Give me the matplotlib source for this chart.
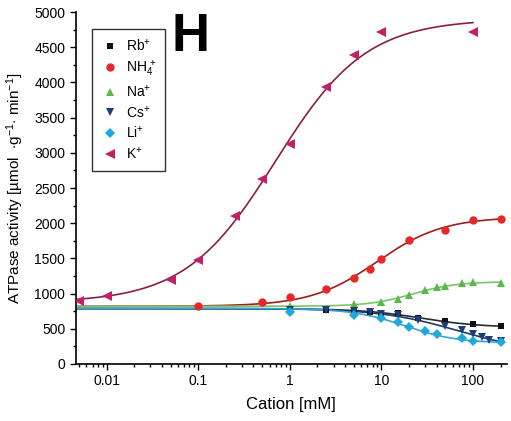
import numpy as np
import matplotlib.pyplot as plt
from matplotlib.ticker import FixedLocator, MultipleLocator, LogLocator, NullFormatter

plt.rcParams['font.family'] = ['Liberation Sans', 'DejaVu Sans']
plt.rcParams['mathtext.fontset'] = 'custom'
plt.rcParams['mathtext.rm'] = 'Liberation Sans'
plt.rcParams['mathtext.it'] = 'Liberation Sans:italic'
plt.rcParams['mathtext.bf'] = 'Liberation Sans:bold'

# measured ATPase activity vs cation concentration (mM)
k_conc = [0.005, 0.01, 0.05, 0.1, 0.25, 0.5, 1, 2.5, 5, 10, 100]
k_act = [890, 970, 1190, 1480, 2100, 2630, 3130, 3940, 4385, 4710, 4720]

nh4_conc = [0.1, 0.5, 1, 2.5, 5, 7.5, 10, 20, 50, 100, 200]
nh4_act = [830, 880, 955, 1070, 1215, 1350, 1490, 1755, 1910, 2050, 2060]

na_conc = [1, 5, 10, 15, 20, 30, 40, 50, 75, 100, 200]
na_act = [825, 855, 875, 920, 975, 1045, 1100, 1110, 1150, 1165, 1150]

rb_conc = [2.5, 5, 7.5, 10, 15, 25, 50, 100, 200]
rb_act = [760, 765, 745, 730, 725, 660, 605, 565, 545]

cs_conc = [1, 2.5, 5, 7.5, 10, 15, 25, 50, 75, 100, 125, 150, 200]
cs_act = [770, 765, 755, 735, 715, 690, 625, 540, 490, 420, 380, 335, 320]

li_conc = [1, 5, 10, 15, 20, 30, 40, 75, 100, 200]
li_act = [745, 700, 650, 590, 525, 465, 425, 365, 325, 310]

# Hill fit parameters: start level, end level, K (mM), n
k_fit = (870, 4900, 0.7, 0.88)
nh4_fit = (820, 2090, 9.0, 1.2)
na_fit = (820, 1170, 22.0, 1.8)
rb_fit = (785, 520, 27.0, 1.33)
cs_fit = (790, 150, 70.0, 1.0)
li_fit = (790, 295, 18.0, 1.5)


def hill(x, p):
    a, b, k, n = p
    f = x**n / (k**n + x**n)
    return a + (b - a) * f


fig = plt.figure(figsize=(5.11, 4.21), dpi=100)
ax = fig.add_axes([0.148, 0.1354, 0.844, 0.836])

x_lo, x_hi = 0.00457, 235

series = [
    (k_conc, k_act, k_fit, 100, '<', '#c42068', '#8a1f45', 6.5, 'K$^{+}$'),
    (nh4_conc, nh4_act, nh4_fit, 200, 'o', '#e52828', '#a31c1c', 6, 'NH$_4^{\\,+}$'),
    (na_conc, na_act, na_fit, 200, '^', '#5cb84a', '#7cc46a', 6, 'Na$^{+}$'),
    (rb_conc, rb_act, rb_fit, 200, 's', '#111111', '#2a2a2a', 5, 'Rb$^{+}$'),
    (cs_conc, cs_act, cs_fit, 200, 'v', '#1c3f7a', '#1f3a70', 6, 'Cs$^{+}$'),
    (li_conc, li_act, li_fit, 200, 'D', '#20a8dc', '#33a6d6', 5, 'Li$^{+}$'),
]

handles = {}
for conc, act, fit, xend, mk, mcol, lcol, ms, lab in series:
    xs = np.logspace(np.log10(x_lo), np.log10(xend), 300)
    ax.plot(xs, hill(xs, fit), color=lcol, lw=1.2, zorder=2)
    h, = ax.plot(conc, act, linestyle='none', marker=mk, color=mcol,
                 markersize=ms, markeredgewidth=0, zorder=3)
    handles[lab] = h

order = ['Rb$^{+}$', 'NH$_4^{\\,+}$', 'Na$^{+}$', 'Cs$^{+}$', 'Li$^{+}$', 'K$^{+}$']
leg = ax.legend([handles[o] for o in order], order, loc='upper left',
                bbox_to_anchor=(0.037, 0.952), fontsize=10, frameon=True,
                fancybox=False, edgecolor='black', handletextpad=0.5,
                handlelength=1.3, borderpad=0.65, labelspacing=0.34,
                borderaxespad=0)
leg.get_frame().set_linewidth(1.0)

ax.set_xscale('log')
ax.set_xlim(x_lo, x_hi)
ax.set_ylim(0, 5000)

ax.xaxis.set_major_locator(FixedLocator([0.01, 0.1, 1, 10, 100]))
ax.set_xticklabels(['0.01', '0.1', '1', '10', '100'])
ax.xaxis.set_minor_locator(LogLocator(base=10, subs=np.arange(2, 10), numticks=20))
ax.xaxis.set_minor_formatter(NullFormatter())
ax.yaxis.set_major_locator(MultipleLocator(500))
ax.yaxis.set_minor_locator(MultipleLocator(250))

ax.tick_params(which='major', direction='out', length=4, width=1, labelsize=10)
ax.tick_params(which='minor', direction='out', length=2.5, width=1)
ax.spines['top'].set_visible(False)
ax.spines['right'].set_visible(False)
ax.spines['left'].set_linewidth(1.2)
ax.spines['bottom'].set_linewidth(1.2)

ax.set_xlabel('Cation [mM]', fontsize=12, labelpad=6)
ax.set_ylabel('ATPase activity [µmol  $\\cdot$g$^{-1}$$\\cdot$ min$^{-1}$]',
              fontsize=11, labelpad=6)

ax.text(0.222, 1.0, 'H', transform=ax.transAxes, fontsize=38,
        fontweight='bold', va='top', ha='left')

fig.savefig('out.png', dpi=100)
